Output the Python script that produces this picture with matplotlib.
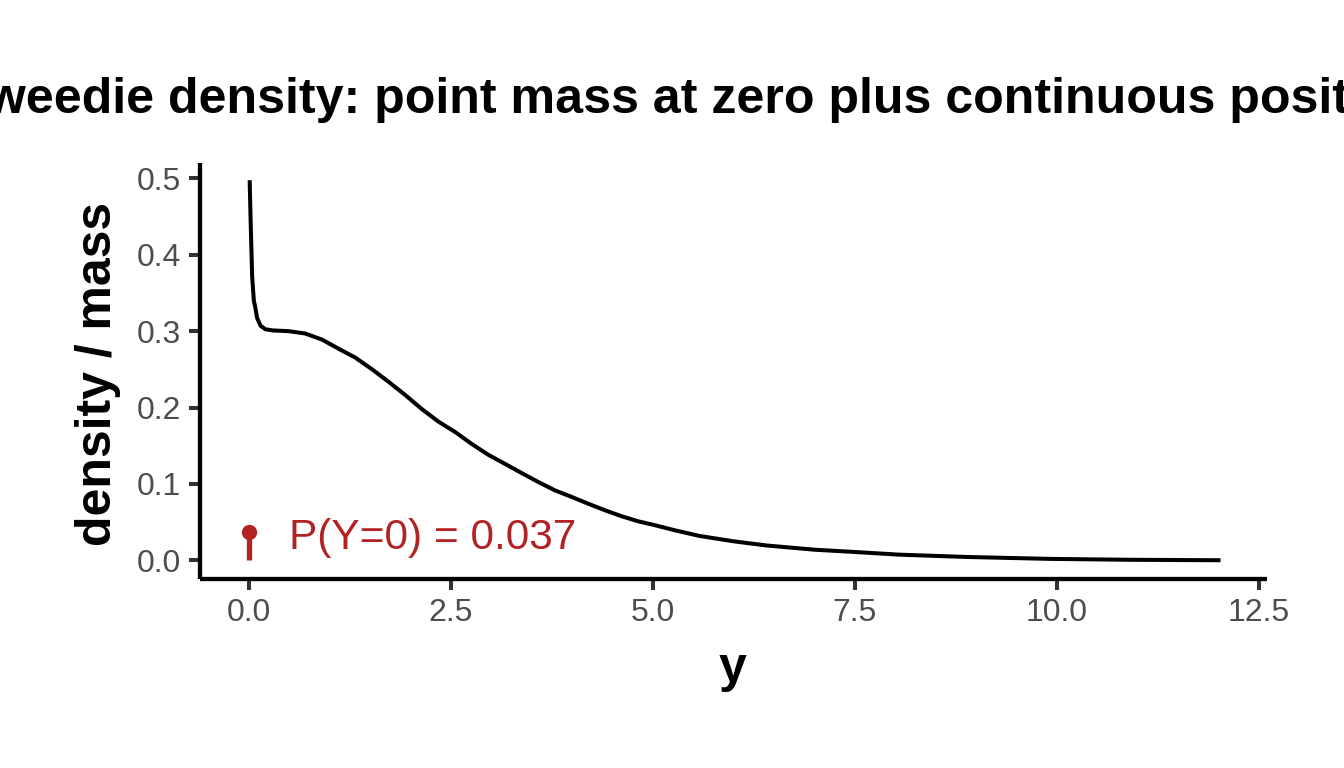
import numpy as np
import matplotlib
matplotlib.use("Agg")
import matplotlib.pyplot as plt

plt.rcParams['font.family'] = ['Liberation Sans', 'DejaVu Sans']

# continuous part of the Tweedie density
y_grid = [0.015, 0.025, 0.045, 0.066, 0.086, 0.107, 0.15, 0.21, 0.30, 0.50,
          0.70, 0.91, 1.115, 1.32, 1.53, 1.73, 1.94, 2.145, 2.35, 2.56,
          2.76, 2.97, 3.17, 3.38, 3.585, 3.79, 4.0, 4.2, 4.41, 4.615,
          4.82, 5.03, 5.27, 5.58, 6.0, 6.41, 7.0, 7.5, 8.05, 8.88,
          9.9, 10.9, 12.0]
density = [0.495, 0.450, 0.372, 0.340, 0.330, 0.317, 0.307, 0.3025, 0.301, 0.300,
           0.297, 0.289, 0.277, 0.2655, 0.250, 0.234, 0.2164, 0.198, 0.1816, 0.1678,
           0.1525, 0.138, 0.1265, 0.1143, 0.1026, 0.0917, 0.083, 0.0743, 0.0656, 0.0578,
           0.0512, 0.046, 0.0395, 0.032, 0.025, 0.0195, 0.014, 0.011, 0.0075, 0.0045,
           0.0020, 0.0008, 0.0002]

# point mass at zero
p_zero = 0.037
mass_label = f"P(Y=0) = {p_zero:.3f}"

title = "Tweedie density: point mass at zero plus continuous positive part"

red = "#B22222"
W, H = 1344, 768

fig = plt.figure(figsize=(W / 100, H / 100), dpi=100)
ax = fig.add_axes([200 / W, (H - 579.3) / H, (1267 - 200) / W, (579.3 - 163.3) / H])

ax.plot(y_grid, density, color="black", lw=2.9, solid_joinstyle="round")
ax.vlines(0, 0, p_zero, color=red, lw=3.8)
ax.plot([0], [p_zero], "o", color=red, ms=10)
ax.text(0.5, 0.0147, mass_label, color=red, fontsize=30.5, ha="left", va="baseline")

# ggplot-style 5% expansion
xmin, xmax = 0, max(y_grid)
ymin, ymax = 0, max(density)
ax.set_xlim(xmin - 0.05 * (xmax - xmin), xmax + 0.05 * (xmax - xmin))
ax.set_ylim(ymin - 0.05 * (ymax - ymin), ymax + 0.05 * (ymax - ymin))

ax.set_xticks([0, 2.5, 5, 7.5, 10, 12.5])
ax.set_xticklabels(["0.0", "2.5", "5.0", "7.5", "10.0", "12.5"])
ax.set_yticks([0, 0.1, 0.2, 0.3, 0.4, 0.5])
ax.set_yticklabels(["0.0", "0.1", "0.2", "0.3", "0.4", "0.5"])

for s in ["top", "right"]:
    ax.spines[s].set_visible(False)
for s in ["left", "bottom"]:
    ax.spines[s].set_linewidth(3.1)
    ax.spines[s].set_color("black")
    ax.spines[s].set_capstyle("butt")

ax.tick_params(axis="both", length=8, width=2.9, color="#333333",
               labelcolor="#4D4D4D", labelsize=23)
ax.tick_params(axis="y", pad=5.5)
ax.tick_params(axis="x", pad=5.5)

fig.text(732 / W, 1 - 682 / H, "y", fontsize=36, fontweight="bold", ha="center", va="baseline")
fig.text(98 / W, 1 - 374 / H, "density / mass", fontsize=36, fontweight="bold",
         rotation=90, ha="center", va="center")
fig.text(744 / W, 1 - 113 / H, title, fontsize=36.1, fontweight="bold",
         ha="center", va="baseline")

fig.savefig("out.png", dpi=100, facecolor="white")
